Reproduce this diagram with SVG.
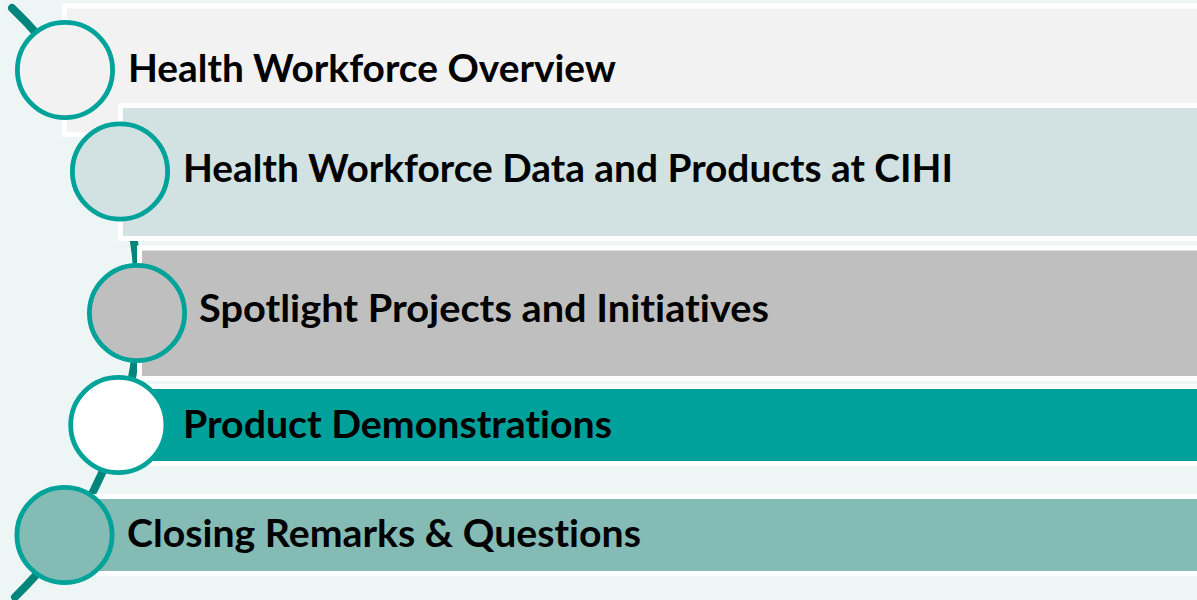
<svg xmlns="http://www.w3.org/2000/svg" width="1197" height="600" viewBox="0 0 1197 600">
  <style>
    .bar { stroke: #FFFFFF; stroke-width: 5; }
    .dot { stroke: #00A39A; stroke-width: 4.8; }
    .label { font-family: Lato, "Open Sans", "Liberation Sans", sans-serif; font-weight: 700; font-size: 38px; fill: #000000; font-variant-ligatures: none; font-feature-settings: "liga" 0, "clig" 0; }
    .spine { fill: none; stroke: #00857C; stroke-width: 8; stroke-linecap: round; }
  </style>

  <!-- page background -->
  <rect x="0" y="0" width="1197" height="600" fill="#EDF6F4"/>

  <!-- curved spine behind the list -->
  <g id="connectors">
    <path class="spine" d="M 12 8 A 409 409 0 0 1 15 597"/>
  </g>

  <!-- list bars -->
  <g id="bar-1"><rect class="bar" x="64.5" y="6" width="1150" height="128.5" fill="#F2F2F2"/></g>
  <g id="bar-2"><rect class="bar" x="120.5" y="105.5" width="1100" height="133" fill="#D2E2E2"/></g>
  <g id="bar-3"><rect class="bar" x="139.5" y="248" width="1100" height="130.5" fill="#BFBFBF"/></g>
  <g id="bar-4"><rect class="bar" x="120" y="386.5" width="1100" height="77" fill="#00A19A"/></g>
  <g id="bar-5"><rect class="bar" x="65" y="496.5" width="1150" height="77" fill="#84BBB5"/></g>

  <!-- items: marker circle + title -->
  <g id="item-1">
    <circle class="dot" cx="65" cy="70" r="47.6" fill="#F2F2F2"/>
    <text class="label" x="128" y="82" textLength="488" lengthAdjust="spacingAndGlyphs">Health Workforce Overview</text>
  </g>
  <g id="item-2">
    <circle class="dot" cx="120" cy="171.5" r="47.6" fill="#D2E2E2"/>
    <text class="label" x="183" y="182" textLength="770" lengthAdjust="spacingAndGlyphs">Health Workforce Data and Products at CIHI</text>
  </g>
  <g id="item-3">
    <circle class="dot" cx="137" cy="313" r="47.6" fill="#BFBFBF"/>
    <text class="label" x="199" y="321.5" textLength="570" lengthAdjust="spacingAndGlyphs">Spotlight Projects and Initiatives</text>
  </g>
  <g id="item-4">
    <circle class="dot" cx="118.3" cy="425" r="47.6" fill="#FFFFFF"/>
    <text class="label" x="183" y="438" textLength="429" lengthAdjust="spacingAndGlyphs">Product Demonstrations</text>
  </g>
  <g id="item-5">
    <circle class="dot" cx="64.5" cy="535" r="47.6" fill="#84BBB5"/>
    <text class="label" x="127" y="547" textLength="514" lengthAdjust="spacingAndGlyphs">Closing Remarks &amp; Questions</text>
  </g>
</svg>
